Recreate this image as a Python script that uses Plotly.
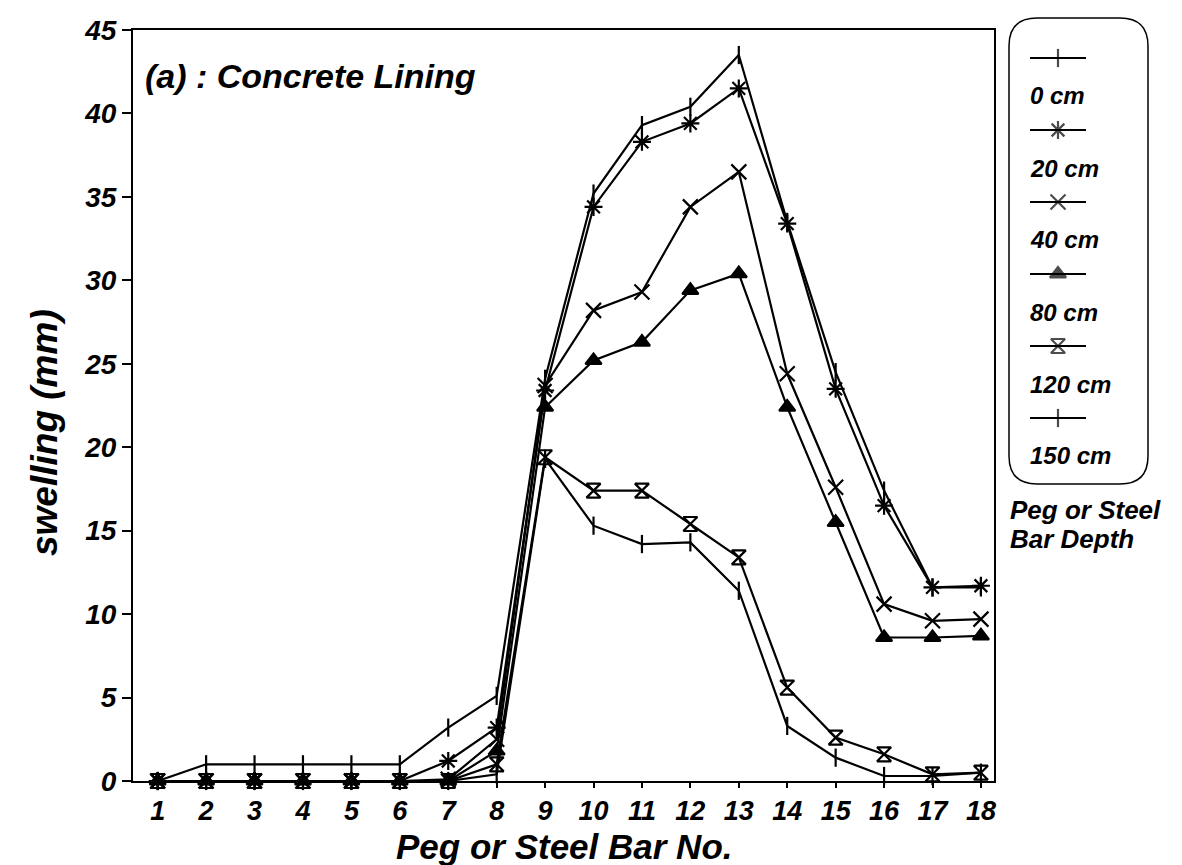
import plotly.graph_objects as go

pegs = list(range(1, 19))
depth_labels = ["0 cm", "20 cm", "40 cm", "80 cm", "120 cm", "150 cm"]
s0 = [0, 1.0, 1.0, 1.0, 1.0, 1.0, 3.2, 5.1, 24.1, 35.2, 39.3, 40.4, 43.5, 33.5, 24.5, 17.4, 11.6, 11.6]
s20 = [0, 0, 0, 0, 0, 0, 1.2, 3.2, 23.4, 34.4, 38.3, 39.4, 41.5, 33.4, 23.5, 16.5, 11.6, 11.7]
s40 = [0, 0, 0, 0, 0, 0, 0.1, 2.5, 23.7, 28.2, 29.3, 34.4, 36.5, 24.4, 17.6, 10.6, 9.6, 9.7]
s80 = [0, 0, 0, 0, 0, 0, 0, 1.8, 22.4, 25.2, 26.3, 29.4, 30.4, 22.4, 15.5, 8.6, 8.6, 8.7]
s120 = [0, 0, 0, 0, 0, 0, 0, 1.0, 19.4, 17.4, 17.4, 15.4, 13.4, 5.6, 2.6, 1.6, 0.4, 0.5]
s150 = [0, 0, 0, 0, 0, 0, 0, 0.4, 19.3, 15.3, 14.2, 14.3, 11.4, 3.3, 1.4, 0.3, 0.3, 0.5]
series = [s0, s20, s40, s80, s120, s150]
y_ticks = [0, 5, 10, 15, 20, 25, 30, 35, 40, 45]

W, H = 1182, 865
FONT = "Liberation Sans"

symbols = ["line-ns", "asterisk", "x-thin", "triangle-up", "hourglass-open", "line-ns"]
sizes = [13, 15, 15, 14, 14, 13]

def bfont(size):
    return dict(family=FONT, size=size, color="black", weight="bold", style="italic")

fig = go.Figure()
for vals, lab, sym, sz in zip(series, depth_labels, symbols, sizes):
    fig.add_trace(go.Scatter(
        x=pegs, y=vals, mode="lines+markers", name=lab,
        line=dict(color="black", width=2.2),
        marker=dict(symbol=sym, size=sz, color="black",
                    line=dict(color="black", width=2.2)),
        showlegend=False, cliponaxis=False,
    ))

# legend samples (custom stacked legend: symbol above label)
leg_top = 50
leg_step = 72
for k, (lab, sym, sz) in enumerate(zip(depth_labels, symbols, sizes)):
    yy = leg_top + k * leg_step
    fig.add_trace(go.Scatter(
        x=[0, 0.5, 1], y=[yy, yy, yy], mode="lines+markers",
        line=dict(color="black", width=2.2),
        marker=dict(symbol=sym, size=[0, sz, 0], color="black",
                    line=dict(color="black", width=2.2)),
        xaxis="x2", yaxis="y2", showlegend=False, hoverinfo="skip",
    ))
    fig.add_annotation(text=lab, xref="paper", yref="paper",
                       x=1020 / W, y=1 - (yy + 38) / H, xanchor="left", yanchor="middle",
                       showarrow=False, font=bfont(24))

px_l, px_r, px_t, px_b = 125, 986, 22, 773
fig.update_layout(
    width=W, height=H,
    margin=dict(l=0, r=0, t=0, b=0),
    paper_bgcolor="white", plot_bgcolor="white",
    xaxis=dict(domain=[px_l / W, px_r / W], range=[0.49, 18.27],
               tickmode="array", tickvals=pegs, ticktext=[str(p) for p in pegs],
               ticks="outside", ticklen=5, tickwidth=1.5, tickcolor="black",
               showline=True, linecolor="black", linewidth=2, mirror=True,
               showgrid=False, zeroline=False, automargin=False,
               tickfont=bfont(27)),
    yaxis=dict(domain=[1 - px_b / H, 1 - px_t / H], range=[0, 45],
               tickmode="array", tickvals=y_ticks, ticktext=[str(v) for v in y_ticks],
               ticks="outside", ticklen=9, tickwidth=1.5, tickcolor="black",
               showline=True, linecolor="black", linewidth=2, mirror=True,
               showgrid=False, zeroline=False, automargin=False,
               tickfont=bfont(28)),
    xaxis2=dict(domain=[1022 / W, 1078 / W], range=[0, 1], visible=False, fixedrange=True),
    yaxis2=dict(domain=[0, 1], range=[H, 0], visible=False, fixedrange=True),
)

# x-axis title
fig.add_annotation(text="Peg or Steel Bar No.", xref="paper", yref="paper",
                   x=(px_l + px_r) / 2 / W, y=1 - 838 / H, xanchor="center", yanchor="middle",
                   showarrow=False, font=bfont(35))

# y-axis title
fig.add_annotation(text="swelling (mm)", xref="paper", yref="paper",
                   x=36 / W, y=1 - 425 / H, textangle=-90, showarrow=False,
                   xanchor="center", yanchor="middle", font=bfont(37))

# panel label
fig.add_annotation(text="(a) : Concrete Lining", xref="paper", yref="paper",
                   x=135 / W, y=1 - 68 / H, xanchor="left", yanchor="middle", showarrow=False,
                   font=bfont(34))

# legend caption
for txt, yy in [("Peg or Steel", 502), ("Bar Depth", 531)]:
    fig.add_annotation(text=txt, xref="paper", yref="paper",
                       x=1000 / W, y=1 - yy / H, xanchor="left", yanchor="middle", showarrow=False,
                       font=bfont(26))

# rounded legend box
L, R, T, B, r = 1001, 1140, 10, 476, 28
def px(xp):
    return xp / W
def py(yp):
    return 1 - yp / H
path = (f"M {px(L + r)},{py(T)} L {px(R - r)},{py(T)} Q {px(R)},{py(T)} {px(R)},{py(T + r)} "
        f"L {px(R)},{py(B - r)} Q {px(R)},{py(B)} {px(R - r)},{py(B)} "
        f"L {px(L + r)},{py(B)} Q {px(L)},{py(B)} {px(L)},{py(B - r)} "
        f"L {px(L)},{py(T + r)} Q {px(L)},{py(T)} {px(L + r)},{py(T)} Z")
fig.add_shape(type="path", path=path, xref="paper", yref="paper",
              line=dict(color="black", width=1.5))

fig.write_html("out.html")
